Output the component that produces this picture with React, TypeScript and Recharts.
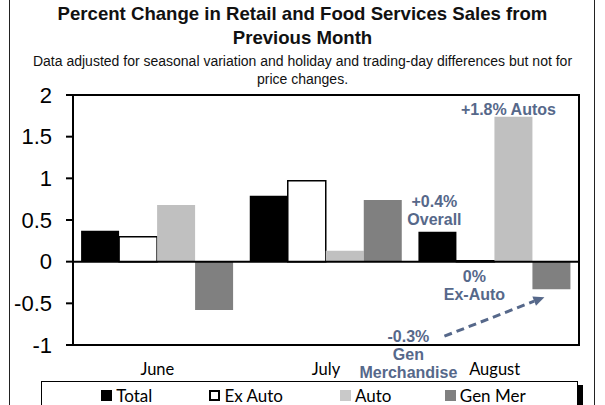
import { BarChart, Bar, XAxis, YAxis, ReferenceLine, ReferenceArea, LabelList } from 'recharts'

// Values (percent change from previous month)
const months = ['June', 'July', 'August']
const totalValues = [0.37, 0.79, 0.36]
const exAutoValues = [0.3, 0.97, 0.01]
const autoValues = [0.68, 0.13, 1.74]
const genMerValues = [-0.58, 0.74, -0.33]
const yTicks = [-1, -0.5, 0, 0.5, 1, 1.5, 2]

const seriesNames = ['Total', 'Ex Auto', 'Auto', 'Gen Mer']
const seriesFills = ['#000000', '#ffffff', '#c0c0c0', '#808080']

const autoNote = ['+1.8% Autos']
const totalNote = ['+0.4%', 'Overall']
const exAutoNote = ['0%', 'Ex-Auto']
const genMerNote = ['-0.3%', 'Gen', 'Merchandise']

const data = months.map((month, i) => ({
  month,
  total: totalValues[i],
  exAuto: exAutoValues[i],
  auto: autoValues[i],
  genMer: genMerValues[i],
}))

const noteColor = '#56688a'
const noteFont = { fontFamily: '"Liberation Sans", Arial, sans-serif', fontSize: 16, fontWeight: 700, fill: noteColor }
const lastIndex = months.length - 1

function barEdges(props: any) {
  const y = Number(props.y)
  const h = Number(props.height)
  return { top: Math.min(y, y + h), bottom: Math.max(y, y + h) }
}

function AutoLabel(props: any) {
  if (props.index !== lastIndex) return null
  const cx = props.x + props.width / 2 - 5
  const { top } = barEdges(props)
  return (
    <text x={cx} y={top - 2} textAnchor="middle" style={noteFont}>
      {autoNote[0]}
    </text>
  )
}

function TotalLabel(props: any) {
  if (props.index !== lastIndex) return null
  const cx = props.x + props.width / 2 - 3
  const { top } = barEdges(props)
  return (
    <g>
      <text x={cx} y={top - 25} textAnchor="middle" style={noteFont}>{totalNote[0]}</text>
      <text x={cx} y={top - 7} textAnchor="middle" style={noteFont}>{totalNote[1]}</text>
    </g>
  )
}

function ExAutoLabel(props: any) {
  if (props.index !== lastIndex) return null
  const cx = props.x + props.width / 2 - 1
  const { bottom } = barEdges(props)
  return (
    <g>
      <text x={cx} y={bottom + 20} textAnchor="middle" style={noteFont}>{exAutoNote[0]}</text>
      <text x={cx} y={bottom + 38} textAnchor="middle" style={noteFont}>{exAutoNote[1]}</text>
    </g>
  )
}

function GenMerLabel(props: any) {
  if (props.index !== lastIndex) return null
  const { bottom } = barEdges(props)
  const cx = props.x - 124
  // dashed arrow from the note up to the bar
  const x1 = props.x - 88
  const y1 = bottom + 47
  const x2 = props.x + 12
  const y2 = bottom + 8
  const ang = Math.atan2(y2 - y1, x2 - x1)
  const len = 11
  const wing = 5
  const bx = x2 - len * Math.cos(ang)
  const by = y2 - len * Math.sin(ang)
  const p1 = `${x2},${y2}`
  const p2 = `${bx + wing * Math.sin(ang)},${by - wing * Math.cos(ang)}`
  const p3 = `${bx - wing * Math.sin(ang)},${by + wing * Math.cos(ang)}`
  return (
    <g>
      <line x1={x1} y1={y1} x2={bx} y2={by} stroke={noteColor} strokeWidth={3} strokeDasharray="8 5" />
      <polygon points={`${p1} ${p2} ${p3}`} fill={noteColor} />
      <text x={cx} y={bottom + 53} textAnchor="middle" style={noteFont}>{genMerNote[0]}</text>
      <text x={cx} y={bottom + 71} textAnchor="middle" style={noteFont}>{genMerNote[1]}</text>
      <text x={cx} y={bottom + 89} textAnchor="middle" style={noteFont}>{genMerNote[2]}</text>
    </g>
  )
}

function MonthTick(props: any) {
  const { x, y, payload } = props
  return (
    <text x={x} y={y} dy={22} textAnchor="middle" fill="#000" style={{ fontFamily: 'Lato, "Open Sans", sans-serif', fontSize: 16.5 }}>
      {payload.value}
    </text>
  )
}

export default function App() {
  return (
    <div
      style={{
        position: 'absolute',
        left: 0,
        top: 0,
        width: 605,
        height: 405,
        background: '#fff',
        overflow: 'hidden',
        fontFamily: '"Liberation Sans", Arial, sans-serif',
      }}
    >
      {/* frame */}
      <div
        style={{
          position: 'absolute',
          left: 9,
          top: -2,
          width: 584,
          height: 420,
          borderLeft: '1.5px solid #222',
          borderRight: '1.5px solid #222',
        }}
      />

      {/* title */}
      <div
        style={{
          position: 'absolute',
          left: 4,
          width: 597,
          top: 2,
          textAlign: 'center',
          fontWeight: 700,
          fontSize: 18.6,
          lineHeight: '24px',
          color: '#111',
        }}
      >
        Percent Change in Retail and Food Services Sales from
        <br />
        Previous Month
      </div>
      <div
        style={{
          position: 'absolute',
          left: 4,
          width: 597,
          top: 52,
          textAlign: 'center',
          fontSize: 14,
          lineHeight: '18px',
          color: '#111',
        }}
      >
        Data adjusted for seasonal variation and holiday and trading-day differences but not for
        <br />
        price changes.
      </div>

      <div style={{ position: 'absolute', left: 0, top: 0 }}>
        <BarChart
          width={605}
          height={405}
          data={data}
          margin={{ top: 95, right: 26, bottom: 30, left: 0 }}
          barCategoryGap="4.8%"
          barGap={0}
        >
          <ReferenceArea y1={-1} y2={2} fill="none" stroke="#000" strokeWidth={2} ifOverflow="visible" />
          <XAxis
            dataKey="month"
            height={30}
            axisLine={{ stroke: '#000', strokeWidth: 2 }}
            tickLine={false}
            tick={<MonthTick />}
            interval={0}
          />
          <YAxis
            width={73}
            domain={[-1, 2]}
            ticks={yTicks}
            interval={0}
            axisLine={{ stroke: '#000', strokeWidth: 2 }}
            tickLine={{ stroke: '#000', strokeWidth: 2 }}
            tickSize={7}
            tickMargin={14}
            tick={{ fill: '#000', fontSize: 22, fontFamily: '"Liberation Sans", Arial, sans-serif' }}
          />
          <Bar dataKey="total" name={seriesNames[0]} fill={seriesFills[0]} isAnimationActive={false}>
            <LabelList dataKey="total" content={TotalLabel} />
          </Bar>
          <Bar
            dataKey="exAuto"
            name={seriesNames[1]}
            fill={seriesFills[1]}
            stroke="#000"
            strokeWidth={1.5}
            isAnimationActive={false}
          >
            <LabelList dataKey="exAuto" content={ExAutoLabel} />
          </Bar>
          <Bar dataKey="auto" name={seriesNames[2]} fill={seriesFills[2]} isAnimationActive={false}>
            <LabelList dataKey="auto" content={AutoLabel} />
          </Bar>
          <Bar dataKey="genMer" name={seriesNames[3]} fill={seriesFills[3]} isAnimationActive={false}>
            <LabelList dataKey="genMer" content={GenMerLabel} />
          </Bar>
          <ReferenceLine y={0} stroke="#000" strokeWidth={2} />
        </BarChart>
      </div>

      {/* legend */}
      <div
        style={{
          position: 'absolute',
          left: 41,
          top: 381,
          width: 537,
          height: 40,
          border: '1px solid #000',
          boxShadow: '5px 4px 0 #000',
          display: 'flex',
          paddingLeft: 25,
          boxSizing: 'border-box',
          fontFamily: 'Lato, "Open Sans", sans-serif',
          fontSize: 17,
        }}
      >
        {seriesNames.map((name, i) => (
          <div
            key={name}
            style={{
              width: 119.5,
              display: 'flex',
              justifyContent: 'center',
              alignItems: 'center',
              height: 24,
              marginTop: 1,
            }}
          >
            <span
              style={{
                display: 'inline-block',
                width: 11,
                height: 11,
                background: seriesFills[i],
                border: i === 1 ? '2px solid #000' : 'none',
                boxSizing: 'border-box',
                marginRight: 4,
                opacity: i === 2 ? 0.85 : 1,
              }}
            />
            <span>{name}</span>
          </div>
        ))}
      </div>
    </div>
  )
}
